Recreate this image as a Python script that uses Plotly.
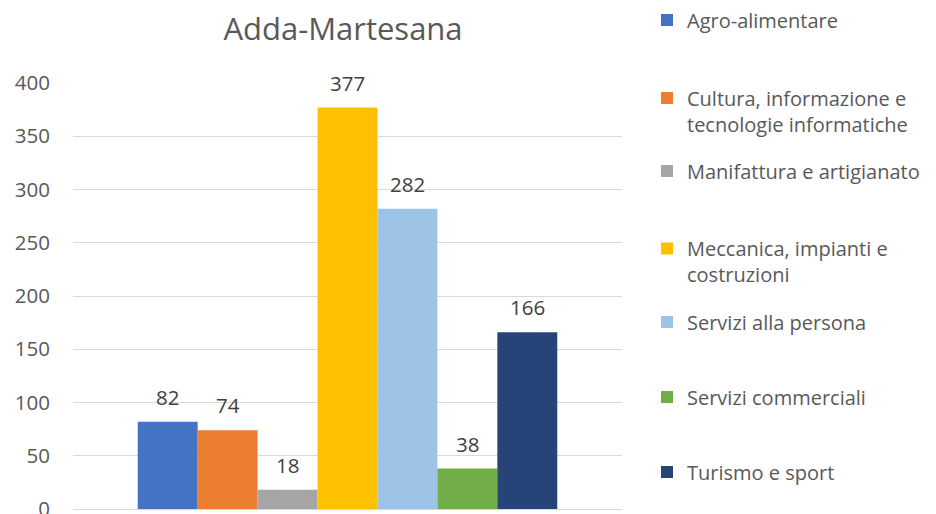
import plotly.graph_objects as go

title = "Adda-Martesana"
series_names = [
    "Agro-alimentare",
    "Cultura, informazione e<br>tecnologie informatiche",
    "Manifattura e artigianato",
    "Meccanica, impianti e<br>costruzioni",
    "Servizi alla persona",
    "Servizi commerciali",
    "Turismo e sport",
]
values = [82, 74, 18, 377, 282, 38, 166]
colors = ["#4472C4", "#ED7D31", "#A5A5A5", "#FFC000", "#9DC3E6", "#70AD47", "#264478"]
y_ticks = [0, 50, 100, 150, 200, 250, 300, 350, 400]

FONT = "Open Sans"
TXT = "#595959"
OFF = 8  # page body margin
W, H = 936 - OFF, 514 - OFF

# legend entry vertical centers (page px from top)
legend_centers = [20, 111, 171, 261.5, 322, 397, 472]

fig = go.Figure()
layout_legends = {}
for i, (name, v, c) in enumerate(zip(series_names, values, colors)):
    key = "legend" if i == 0 else f"legend{i+1}"
    fig.add_trace(go.Bar(
        x=[i], y=[v], name=name, marker=dict(color=c, line=dict(width=0)),
        width=1.0, legend=key, hoverinfo="name+y", showlegend=True,
    ))
    layout_legends[key] = dict(
        xref="container", yref="container",
        x=(647 - OFF) / W, y=1 - (legend_centers[i] - OFF) / H,
        xanchor="left", yanchor="middle", valign="top",
        font=dict(family=FONT, size=20, color=TXT),
        bgcolor="rgba(0,0,0,0)", borderwidth=0,
    )
    fig.add_annotation(
        x=i, y=v, text=str(v), showarrow=False, yanchor="middle", yshift=25,
        font=dict(family=FONT, size=20.5, color="#404040"),
    )

fig.update_layout(
    width=W, height=H,
    margin=dict(l=73 - OFF, r=936 - 622, t=83 - OFF, b=5, autoexpand=False),
    paper_bgcolor="white", plot_bgcolor="white",
    barmode="overlay", showlegend=True,
    title=dict(text=title, x=(343 - OFF) / W, xanchor="center", y=1 - (29.5 - OFF) / H,
               yanchor="middle", font=dict(family=FONT, size=31, color=TXT)),
    xaxis=dict(range=[-1.58, 7.58], showticklabels=False, showgrid=False, zeroline=False,
               showline=False, fixedrange=True, automargin=False),
    yaxis=dict(range=[0, 400], tickvals=y_ticks, showgrid=True, gridcolor="#D9D9D9", gridwidth=1,
               zeroline=True, zerolinecolor="#D9D9D9", zerolinewidth=1, showline=False,
               ticks="", ticklabelstandoff=22, ticklabeloverflow="allow", automargin=False,
               tickfont=dict(family=FONT, size=20.5, color=TXT)),
    **layout_legends,
)

fig.write_html("out.html")
